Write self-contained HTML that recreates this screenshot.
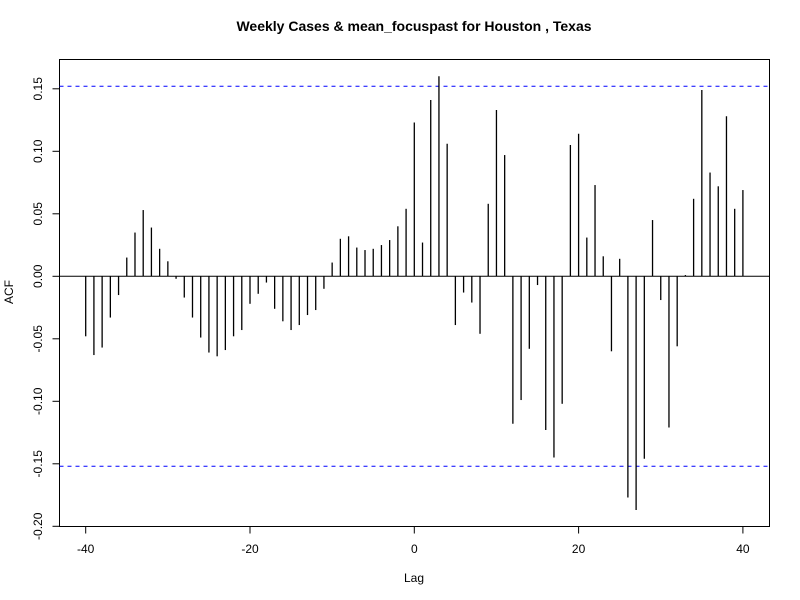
<!DOCTYPE html>
<html><head><meta charset="utf-8"><style>body{margin:0;background:#fff}svg{display:block}text{font-family:"Liberation Sans",Arial,sans-serif}</style></head>
<body>
<svg id="chart" width="800" height="600" xmlns="http://www.w3.org/2000/svg">
<text x="414" y="31" text-anchor="middle" font-size="14" font-weight="bold">Weekly Cases &amp; mean_focuspast for Houston , Texas</text>
<text x="414" y="582" text-anchor="middle" font-size="12">Lag</text>
<text transform="translate(13,292) rotate(-90)" text-anchor="middle" font-size="12">ACF</text>
<rect x="59.5" y="59.5" width="710" height="467" fill="none" stroke="#000"/>
<g id="g"></g>
</svg>
<script>
const lags = [];
for (let i = -40; i <= 40; i++) lags.push(i);
const acfValues = [-0.048,-0.063,-0.057,-0.033,-0.015,0.015,0.035,0.053,0.039,0.022,0.012,-0.002,-0.017,-0.033,-0.049,-0.061,-0.064,-0.059,-0.048,-0.043,-0.022,-0.014,-0.005,-0.026,-0.036,-0.043,-0.039,-0.031,-0.027,-0.010,0.011,0.030,0.032,0.023,0.021,0.022,0.025,0.029,0.040,0.054,0.123,0.027,0.141,0.160,0.106,-0.039,-0.013,-0.021,-0.046,0.058,0.133,0.097,-0.118,-0.099,-0.058,-0.007,-0.123,-0.145,-0.102,0.105,0.114,0.031,0.073,0.016,-0.060,0.014,-0.177,-0.187,-0.146,0.045,-0.019,-0.121,-0.056,0.001,0.062,0.149,0.083,0.072,0.128,0.054,0.069];
const xTicks = [-40,-20,0,20,40];
const yTicks = [-0.20,-0.15,-0.10,-0.05,0.00,0.05,0.10,0.15];
const ciLevel = 0.152;
const X = v => 414.3 + v * 8.215;
const Y = v => 276.3 - v * 1250;
const g = document.getElementById('g');
const NS = 'http://www.w3.org/2000/svg';
function mk(tag, attrs) { const e = document.createElementNS(NS, tag); for (const k in attrs) e.setAttribute(k, attrs[k]); g.appendChild(e); return e; }
let e = mk('line', {x1:59.5, x2:769.5, y1:Y(0), y2:Y(0), stroke:'#000'});


[ciLevel, -ciLevel].forEach((c, i) => {
  const l = mk('line', {x1:59.5, x2:769.5, y1:Y(c), y2:Y(c), stroke:'#0000ff', 'stroke-dasharray':'4,4'});
  
  
});
lags.forEach((lag, i) => {
  const b = mk('line', {x1:X(lag), x2:X(lag), y1:Y(0), y2:Y(acfValues[i]), stroke:'#000', 'stroke-width':1.3});
  
  
});
xTicks.forEach(t => {
  const l = mk('line', {x1:X(t), x2:X(t), y1:526.5, y2:533.5, stroke:'#000'});
  
  
  const tx = mk('text', {x:X(t), y:553, 'text-anchor':'middle', 'font-size':12});
  tx.textContent = String(t);
  
  
});
yTicks.forEach(t => {
  const l = mk('line', {x1:52.5, x2:59.5, y1:Y(t), y2:Y(t), stroke:'#000'});
  
  
  const tx = mk('text', {transform:'translate(42,' + Y(t) + ') rotate(-90)', 'text-anchor':'middle', 'font-size':12});
  tx.textContent = t.toFixed(2);
  
  
});
</script>
</body></html>
